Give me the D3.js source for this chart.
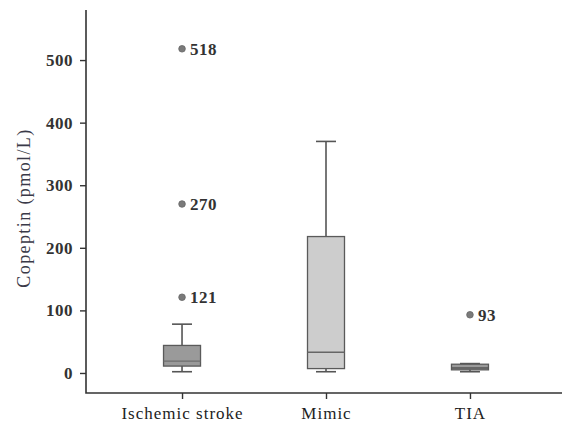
<!DOCTYPE html>
<html>
<head>
  <meta charset="utf-8">
  <script src="https://d3js.org/d3.v7.min.js"></script>
  <style>
    body { margin: 0; background: #fff; }
    svg { display: block; }
    text { font-family: "Liberation Serif", "Times New Roman", serif; fill: #2b2b2b; }
  </style>
</head>
<body>
  <svg id="canvas" width="565" height="423"></svg>
<script>
  // values
  const categories = ["Ischemic stroke", "Mimic", "TIA"];
  const whiskerLow = [2, 2, 2];
  const q1 = [11, 7, 5];
  const median = [19, 33, 8];
  const q3 = [44, 218, 14];
  const whiskerHigh = [78, 370, 15];

  const outlierGroup = ["Ischemic stroke", "Ischemic stroke", "Ischemic stroke", "TIA"];
  const outlierValue = [518, 270, 121, 93];

  const yTicks = [0, 100, 200, 300, 400, 500];
  const yTitle = "Copeptin (pmol/L)";

  const fills = { "Ischemic stroke": "#9a9a9a", "Mimic": "#cdcdcd", "TIA": "#9a9a9a" };
  const medianColors = { "Ischemic stroke": "#6e6e6e", "Mimic": "#666", "TIA": "#555" };

  const svg = d3.select("#canvas");
  const mLeft = 86, mBottom = 393, mTop = 10, mRight = 562;

  const x = d3.scalePoint().domain(categories).range([mLeft, 566]).padding(0.667);
  const y = d3.scaleLinear().domain([-32, 580]).range([mBottom, mTop]);

  const boxW = 37, capW = 20;

  const boxes = categories.map((c, i) => ({
    cat: c, lo: whiskerLow[i], q1: q1[i], med: median[i], q3: q3[i], hi: whiskerHigh[i]
  }));

  const g = svg.selectAll("g.box").data(boxes).join("g").attr("class", "box");

  // whiskers
  g.append("line")
    .attr("x1", d => x(d.cat)).attr("x2", d => x(d.cat))
    .attr("y1", d => y(d.hi)).attr("y2", d => y(d.lo))
    .attr("stroke", "#555").attr("stroke-width", 1.6);
  g.append("line")
    .attr("x1", d => x(d.cat) - capW / 2).attr("x2", d => x(d.cat) + capW / 2)
    .attr("y1", d => y(d.hi)).attr("y2", d => y(d.hi))
    .attr("stroke", "#555").attr("stroke-width", 1.6);
  g.append("line")
    .attr("x1", d => x(d.cat) - capW / 2).attr("x2", d => x(d.cat) + capW / 2)
    .attr("y1", d => y(d.lo)).attr("y2", d => y(d.lo))
    .attr("stroke", "#555").attr("stroke-width", 1.6);

  // box
  g.append("rect")
    .attr("x", d => x(d.cat) - boxW / 2)
    .attr("width", boxW)
    .attr("y", d => y(d.q3))
    .attr("height", d => y(d.q1) - y(d.q3))
    .attr("fill", d => fills[d.cat])
    .attr("stroke", "#5a5a5a").attr("stroke-width", 1.3);

  // median
  g.append("line")
    .attr("x1", d => x(d.cat) - boxW / 2).attr("x2", d => x(d.cat) + boxW / 2)
    .attr("y1", d => y(d.med)).attr("y2", d => y(d.med))
    .attr("stroke", d => medianColors[d.cat]).attr("stroke-width", 1.4);

  // outliers
  const outliers = outlierValue.map((v, i) => ({ cat: outlierGroup[i], v }));
  svg.selectAll("circle.out").data(outliers).join("circle")
    .attr("class", "out")
    .attr("cx", d => x(d.cat)).attr("cy", d => y(d.v))
    .attr("r", 3.3).attr("fill", "#7a7a7a").attr("stroke", "#666").attr("stroke-width", 0.8);
  svg.selectAll("text.out").data(outliers).join("text")
    .attr("class", "out")
    .attr("x", d => x(d.cat) + 8).attr("y", d => y(d.v))
    .attr("dy", "0.35em")
    .attr("font-size", 17).attr("font-weight", "bold").attr("letter-spacing", 0.5)
    .style("fill", "#333")
    .text(d => d.v);

  // y axis
  const yAxis = svg.append("g").attr("transform", `translate(${mLeft},0)`)
    .call(d3.axisLeft(y).tickValues(yTicks).tickSize(6).tickPadding(7));
  yAxis.select(".domain").remove();
  yAxis.selectAll(".tick line").attr("stroke", "#333").attr("stroke-width", 1.4);
  yAxis.selectAll(".tick text")
    .attr("font-size", 17).attr("font-weight", "bold").attr("letter-spacing", 0.5)
    .attr("font-family", null).style("fill", "#333");

  // x axis
  const xAxis = svg.append("g").attr("transform", `translate(0,${mBottom})`)
    .call(d3.axisBottom(x).tickSize(6).tickPadding(8));
  xAxis.select(".domain").remove();
  xAxis.selectAll(".tick line").attr("stroke", "#333").attr("stroke-width", 1.4);
  xAxis.selectAll(".tick text")
    .attr("font-size", 17).attr("letter-spacing", 1)
    .attr("font-family", null).style("fill", "#222");

  // axis frame (L shape)
  svg.append("path")
    .attr("d", `M${mLeft},${mTop}V${mBottom}H${mRight}`)
    .attr("fill", "none").attr("stroke", "#333").attr("stroke-width", 1.6);

  // y title
  svg.append("text")
    .attr("transform", `translate(24,208) rotate(-90)`)
    .attr("text-anchor", "middle")
    .attr("dy", "0.35em")
    .attr("font-size", 18).attr("letter-spacing", 1.4)
    .style("fill", "#3a3a48")
    .text(yTitle);
</script>
</body>
</html>
